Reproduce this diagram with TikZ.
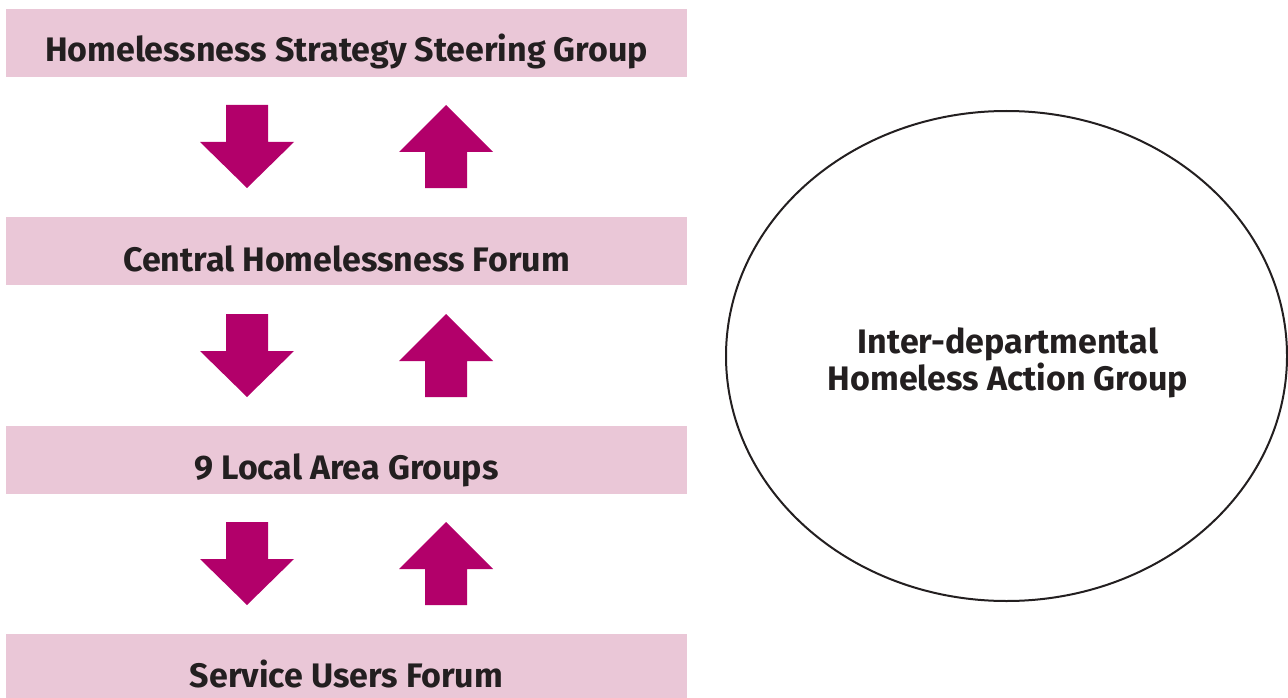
\documentclass[tikz,border=0pt]{standalone}
\usepackage{fontspec}
\setmainfont{Fira Sans}
\usetikzlibrary{shapes.geometric}
\definecolor{boxpink}{HTML}{EAC7D7}
\definecolor{arrowmag}{HTML}{B2006A}
\definecolor{txtcol}{HTML}{231F20}
\tikzset{
  band/.style={fill=boxpink, draw=none, minimum width=681pt, minimum height=68pt, inner sep=0pt},
  lbl/.style={anchor=base, text=txtcol, font=\fontsize{34}{32}\selectfont\bfseries, inner sep=0pt},
  updown/.style={fill=arrowmag},
}
\begin{document}
\begin{tikzpicture}[x=1pt,y=-1pt]
\useasboundingbox (0,0) rectangle (1288,698);
% boxes
\node[band] (b1) at (346.5,43.5) {};
\node[band] (b2) at (346.5,251) {};
\node[band] (b3) at (346.5,460) {};
\node[band] (b4) at (346.5,668) {};
\node[lbl] (t1) at (346.5,62) {Homelessness Strategy Steering Group};
\node[lbl] (t2) at (346.5,271) {Central Homelessness Forum};
\node[lbl] (t3) at (346.5,479) {9 Local Area Groups};
\node[lbl] (t4) at (346.5,687) {Service Users Forum};
% arrows
\foreach \y in {105,314,522}{
  \fill[updown] (226,\y) -- (268,\y) -- (268,\y+37) -- (294,\y+37) -- (247,\y+83) -- (200,\y+37) -- (226,\y+37) -- cycle;
  \fill[updown] (446,\y) -- (493,\y+47) -- (467,\y+47) -- (467,\y+83) -- (425,\y+83) -- (425,\y+47) -- (399,\y+47) -- cycle;
}
% ellipse
\node[draw=txtcol, line width=2pt, ellipse, minimum width=561pt, minimum height=490pt, inner sep=0pt] (iag) at (1006.5,356) {};
\node[lbl, align=center] (iagt) at (1008,390) {Inter-departmental\\Homeless Action Group};
\end{tikzpicture}
\end{document}
